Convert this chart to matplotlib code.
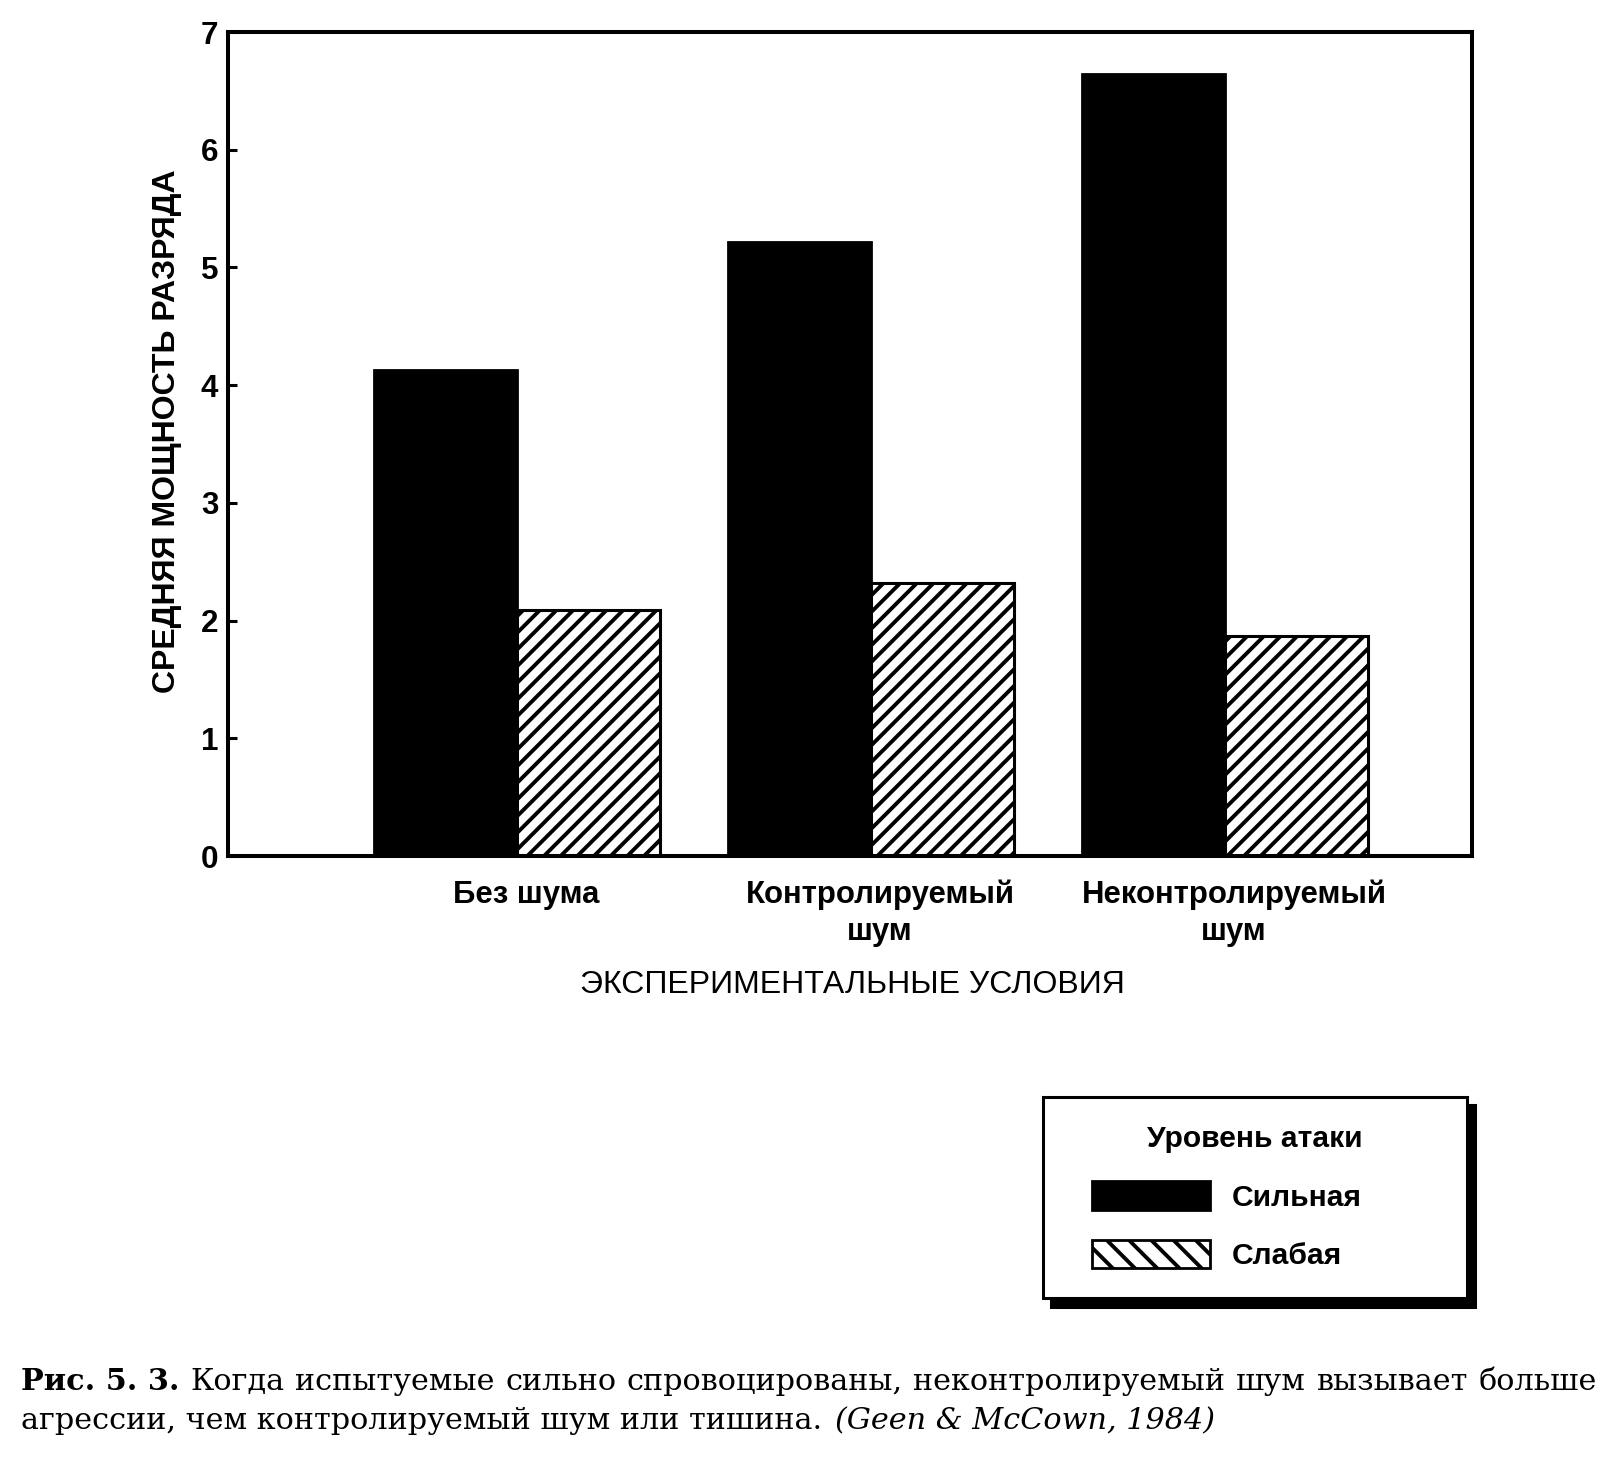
import matplotlib
matplotlib.use('Agg')
import matplotlib.pyplot as plt
from matplotlib.patches import Patch, Rectangle
from matplotlib.legend_handler import HandlerPatch
import matplotlib.transforms as mtransforms
import numpy as np

# ---------------- data ----------------
categories = ['Без шума', 'Контролируемый\nшум', 'Неконтролируемый\nшум']
strong = [4.13, 5.22, 6.64]
weak = [2.09, 2.32, 1.87]
series_names = ['Сильная', 'Слабая']
legend_title = 'Уровень атаки'
y_ticks = [0, 1, 2, 3, 4, 5, 6, 7]
x_label = 'ЭКСПЕРИМЕНТАЛЬНЫЕ УСЛОВИЯ'
y_label = 'СРЕДНЯЯ МОЩНОСТЬ РАЗРЯДА'
caption_bold = 'Рис. 5. 3.'
caption_line1 = 'Когда испытуемые сильно спровоцированы, неконтролируемый шум вызывает больше'
caption_line2 = 'агрессии, чем контролируемый шум или тишина.'
caption_cite = '(Geen & McCown, 1984)'

# ---------------- setup ----------------
W, H, DPI = 1618, 1463, 200
plt.rcParams['font.family'] = ['Liberation Sans', 'DejaVu Sans']
plt.rcParams['hatch.linewidth'] = 1.4
plt.rcParams['hatch.color'] = 'black'

fig = plt.figure(figsize=(W / DPI, H / DPI), dpi=DPI)
fig.patch.set_facecolor('white')


def fx(px):
    return px / W


def fy(py):
    return 1 - py / H


ax = fig.add_axes([fx(228), fy(856), fx(1472) - fx(228), fy(32) - fy(856)])
x = np.arange(len(categories))
w = 0.404
ax.bar(x - w / 2, strong, w, color='black', edgecolor='black', linewidth=1.0)
ax.bar(x + w / 2, weak, w, facecolor='white', edgecolor='black',
       linewidth=1.1, hatch='////')
ax.set_xlim(-0.816, 2.698)
ax.set_ylim(0, 7)
ax.set_yticks(y_ticks)
ax.set_yticklabels([str(t) for t in y_ticks], fontweight='bold', fontsize=11.3)
ax.tick_params(axis='y', direction='in', length=3.2, width=1.1, pad=3.5)
ax.set_xticks(x)
ax.set_xticklabels(categories, fontweight='bold', fontsize=11.2, linespacing=1.3)
ax.tick_params(axis='x', length=0, pad=8.5)
shift = mtransforms.ScaledTranslation(9 / DPI, 0, fig.dpi_scale_trans)
for lbl in ax.get_xticklabels():
    lbl.set_transform(lbl.get_transform() + shift)
for sp in ax.spines.values():
    sp.set_linewidth(1.45)

ax.set_ylabel(y_label, fontweight='bold', fontsize=11.5)
ax.yaxis.set_label_coords(-0.037, 0.516)
ax.set_xlabel(x_label, fontsize=11.5)
ax.xaxis.set_label_coords(0.502, -0.138)


# ---------------- legend ----------------
def make_patch(legend, orig_handle, xdescent, ydescent, width, height, fontsize):
    off = 0.70 * fontsize
    return Rectangle((-xdescent + off, -ydescent), width - off, height)


handles = [Patch(facecolor='black', edgecolor='black', linewidth=1.0),
           Patch(facecolor='white', edgecolor='black', linewidth=1.0, hatch='\\\\\\')]
leg = fig.legend(handles, series_names, title=legend_title,
                 loc='upper left',
                 bbox_to_anchor=(fx(1043), fy(1295), fx(1467) - fx(1043), fy(1097) - fy(1295)),
                 mode='expand', borderaxespad=0,
                 prop={'weight': 'bold', 'size': 10.8},
                 title_fontproperties={'weight': 'bold', 'size': 10.8},
                 handlelength=4.63, handleheight=1.1, handletextpad=0.73,
                 labelspacing=0.93, borderpad=0.94,
                 fancybox=False, framealpha=1, edgecolor='black',
                 shadow={'ox': 3.0, 'oy': -3.0, 'color': 'black', 'alpha': 1},
                 handler_map={Patch: HandlerPatch(patch_func=make_patch)})
leg.get_frame().set_linewidth(1.1)

# ---------------- caption ----------------
renderer = fig.canvas.get_renderer()
serif = ['DejaVu Serif', 'Liberation Serif']
left_px, right_px = 21, 1597
base1, base2 = 1390, 1429


def measure(s, fs, weight='normal', style='normal'):
    t = fig.text(0, 0, s, fontsize=fs, family=serif, fontweight=weight, fontstyle=style)
    wd = t.get_window_extent(renderer).width
    t.remove()
    return wd


tokens = [(caption_bold, 'bold')] + [(wd, 'normal') for wd in caption_line1.split()]
cap_fs = 11.5
target = right_px - left_px
while True:
    widths = [measure(s, cap_fs, wt) for s, wt in tokens]
    space = measure('a a', cap_fs) - measure('aa', cap_fs)
    gap = (target - sum(widths)) / (len(tokens) - 1)
    if gap >= space * 1.0 or cap_fs < 8:
        break
    cap_fs -= 0.1

xpos = left_px
for (s, wt), wd in zip(tokens, widths):
    fig.text(fx(xpos), fy(base1), s, fontsize=cap_fs, family=serif,
             fontweight=wt, va='baseline', ha='left')
    xpos += wd + gap

w2 = measure(caption_line2, cap_fs)
fig.text(fx(left_px), fy(base2), caption_line2, fontsize=cap_fs, family=serif,
         va='baseline', ha='left')
fig.text(fx(left_px + w2 + space * 1.3), fy(base2), caption_cite, fontsize=cap_fs,
         family=serif, fontstyle='italic', va='baseline', ha='left')

fig.savefig('out.png', dpi=DPI, facecolor='white')
